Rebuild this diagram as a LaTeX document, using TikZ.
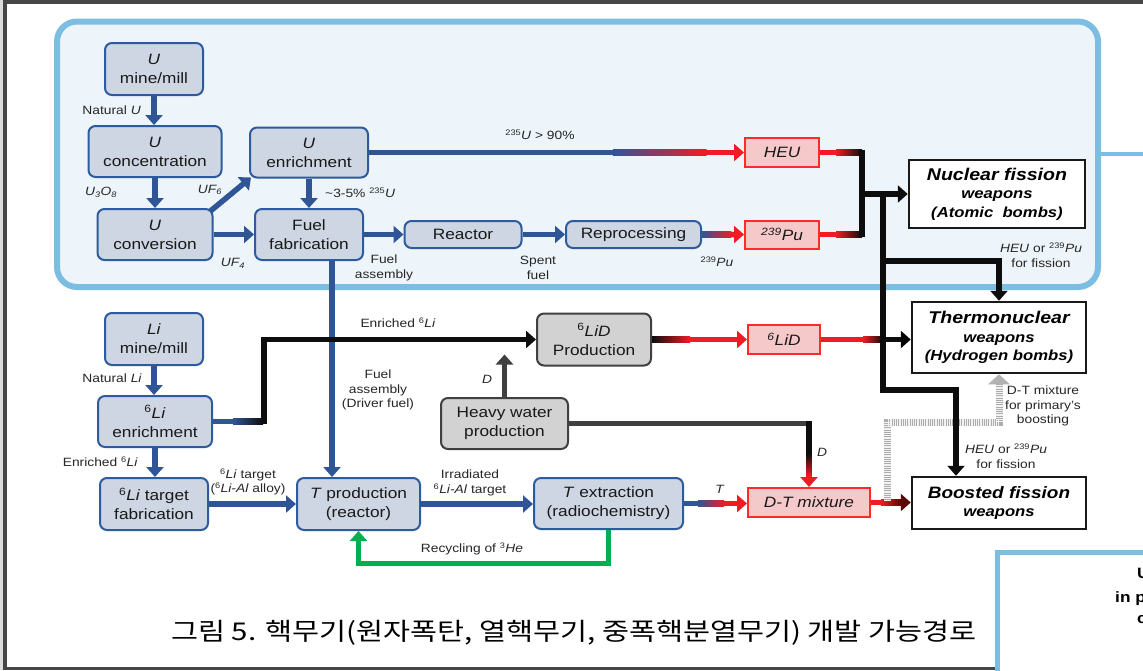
\documentclass[tikz,border=0pt]{standalone}
\usepackage{fontspec}
\setmainfont{Liberation Sans}[FakeStretch=1.15]
\newfontfamily\krfont{Noto Sans CJK KR}[FakeStretch=1.2]
\usetikzlibrary{arrows.meta,calc}

\definecolor{cBlue}{HTML}{2F5597}
\definecolor{cProc}{HTML}{CDD6E2}
\definecolor{cProcD}{HTML}{2E5B9E}
\definecolor{cRed}{HTML}{F01C24}
\definecolor{cRedB}{HTML}{FF2A2A}
\definecolor{cPink}{HTML}{F5C8CA}
\definecolor{cDkRed}{HTML}{5A0808}
\definecolor{cGray}{HTML}{D2D2D2}
\definecolor{cDark}{HTML}{404040}
\definecolor{cSky}{HTML}{7CBDE2}
\definecolor{cSkyF}{HTML}{EEF5FA}
\definecolor{cGreen}{HTML}{00B050}
\definecolor{cLab}{HTML}{262626}
\definecolor{cFrame}{HTML}{464646}
\definecolor{cOut}{HTML}{DCDCDC}

\newcommand\nodefnt{\fontsize{15}{19}\selectfont}
\newcommand\labfnt{\fontsize{12}{14.5}\selectfont}
\newcommand\wpnfnt{\bfseries\itshape\fontsize{14.5}{18.5}\selectfont}
% horizontal / vertical colour ramps laid over a 5.5pt connector
\newcommand\hgrad[4]{\shade[left color=#3,right color=#4] ($#1+(0,-2.75)$) rectangle ($#2+(0,2.75)$);}
\newcommand\vgrad[4]{\shade[top color=#3,bottom color=#4] ($#1+(-2.75,0)$) rectangle ($#2+(2.75,0)$);}

\begin{document}
\begin{tikzpicture}[x=1pt,y=-1pt,
  >={Triangle[width=17pt,length=10pt]},
  proc/.style={draw=cProcD, fill=cProc, line width=2pt, rounded corners=7pt, align=center, inner sep=0pt, font=\nodefnt, text=black!90},
  gbox/.style={proc, draw=cDark, fill=cGray},
  rbox/.style={draw=cRedB, fill=cPink, line width=2pt, inner sep=0pt, font=\nodefnt\itshape, text=black!90},
  wbox/.style={draw=black!90, fill=white, line width=2.5pt, align=center, inner sep=0pt, font=\wpnfnt},
  lab/.style={font=\labfnt, text=cLab, align=center, inner sep=0pt},
  bl/.style={draw=cBlue, line width=5.5pt},
  kl/.style={draw=black!95, line width=5.5pt},
  rl/.style={draw=cRed, line width=5.5pt},
  dl/.style={draw=cDark, line width=5.5pt},
  gl/.style={draw=cGreen, line width=5pt},
  tored/.style={-{Triangle[width=17pt,length=10pt,color=cRed]}},
  todkred/.style={-{Triangle[width=17pt,length=10pt,color=cDkRed]}},
  toblack/.style={-{Triangle[width=17pt,length=10pt,color=black]}},
]
\useasboundingbox (0,0) rectangle (1143,670);
\clip (0,0) rectangle (1143,670);

% page frame
\fill[cOut] (0,0) rectangle (1143,670);
\fill[cFrame] (3,0) rectangle (1143,670);
\fill[white] (7,4) rectangle (1143,667);

% fission-material panel
\draw[cSky, line width=6pt, fill=cSkyF, rounded corners=20pt] (57,21.5) rectangle (1098,287);
\draw[cSky, line width=4pt] (1098,154) -- (1143,154);
% neighbouring panel
\draw[cSky, line width=5pt, fill=white] (997.5,552.5) rectangle (1170,700);
\node[font=\bfseries\fontsize{15}{18}\selectfont, anchor=base west, inner sep=0pt] (pU) at (1137,578) {U};
\node[font=\bfseries\fontsize{15}{18}\selectfont, anchor=base west, inner sep=0pt] (pIn) at (1115,602) {in p};
\node[font=\bfseries\fontsize{15}{18}\selectfont, anchor=base west, inner sep=0pt] (pC) at (1137,623) {c};

% uranium route
\node[proc, minimum width=98pt, minimum height=52pt] (umine) at (154,69) {\textit{U}\\mine/mill};
\node[proc, minimum width=133pt, minimum height=51pt] (ucon) at (155,151.5) {\textit{U}\\concentration};
\node[proc, minimum width=115pt, minimum height=51pt] (uconv) at (155,234.5) {\textit{U}\\conversion};
\node[proc, minimum width=118pt, minimum height=50pt] (uenr) at (309,152.5) {\textit{U}\\enrichment};
\node[proc, minimum width=108pt, minimum height=51pt] (ffab) at (309,234.5) {Fuel\\fabrication};
\node[proc, minimum width=117pt, minimum height=27pt] (reac) at (463,234.5) {Reactor};
\node[proc, minimum width=135pt, minimum height=27pt] (repr) at (633.5,234.5) {Reprocessing};
\node[rbox, minimum width=74pt, minimum height=29pt] (heu) at (782,152.5) {HEU};
\node[rbox, minimum width=74pt, minimum height=28pt] (pu) at (782,234.5) {\textsuperscript{239}Pu};

% lithium route
\node[proc, minimum width=98pt, minimum height=52pt] (limine) at (154,339) {\textit{Li}\\mine/mill};
\node[proc, minimum width=114pt, minimum height=51pt] (lienr) at (155,421.5) {\textsuperscript{6}\textit{Li}\\enrichment};
\node[proc, minimum width=108pt, minimum height=52pt] (litf) at (154,504) {\textsuperscript{6}\textit{Li} target\\fabrication};
\node[proc, minimum width=123pt, minimum height=52pt] (tprod) at (358.5,504) {\textit{T} production\\(reactor)};
\node[proc, minimum width=149pt, minimum height=51pt] (text) at (608.5,503.5) {\textit{T} extraction\\(radiochemistry)};
\node[gbox, minimum width=114pt, minimum height=52pt] (lidprod) at (594,339.5) {\textsuperscript{6}\textit{LiD}\\Production};
\node[gbox, minimum width=127pt, minimum height=51pt] (hw) at (504.5,423.5) {Heavy water\\production};
\node[rbox, minimum width=72pt, minimum height=29pt] (lid) at (784,339.5) {\textsuperscript{6}LiD};
\node[rbox, minimum width=122pt, minimum height=29pt] (dt) at (809,502.5) {D-T mixture};

% weapon types
\node[wbox, minimum width=176pt, minimum height=68pt] (nfw) at (997,194) {{\fontsize{17}{19}\selectfont Nuclear fission}\\weapons\\(Atomic\ \ bombs)};
\node[wbox, minimum width=174pt, minimum height=71pt] (thermo) at (999,337.5) {{\fontsize{17}{19}\selectfont Thermonuclear}\\weapons\\(Hydrogen bombs)};
\node[wbox, minimum width=174pt, minimum height=52pt] (boosted) at (999,503) {{\fontsize{16.5}{19}\selectfont Boosted fission}\\weapons};

% ---- connectors: uranium
\draw[bl,->] (umine.south) -- (umine.south |- ucon.north);
\draw[bl,->] (ucon.south) -- (ucon.south |- uconv.north);
\draw[bl,->] ($(uconv.north east)+(-3,3)$) -- ($(uenr.south west)+(2,-1)$);
\draw[bl,->] (uconv.east) -- (uconv.east -| ffab.west);
\draw[bl,->] (uenr.south) -- (uenr.south |- ffab.north);
\draw[bl,->] (ffab.east) -- (ffab.east -| reac.west);
\draw[bl,->] (reac.east) -- (reac.east -| repr.west);

\coordinate (h1) at ($(uenr.east)!0.65!(heu.west)$);
\coordinate (h2) at ($(uenr.east)!0.9!(heu.west)$);
\draw[bl,tored] (uenr.east) -- (heu.west);
\hgrad{(h1)}{(h2)}{cBlue}{cRed}
\draw[rl] (h2) -- ($(heu.west)+(-10,0)$);

\coordinate (p1) at ($(repr.east)!0.7!(pu.west)$);
\draw[bl,tored] (repr.east) -- (pu.west);
\hgrad{(repr.east)}{(p1)}{cBlue}{cRed}
\draw[rl] (p1) -- ($(pu.west)+(-10,0)$);

% ---- connectors: lithium
\draw[bl,->] (limine.south) -- (limine.south |- lienr.north);
\draw[bl,->] (lienr.south) -- (lienr.south |- litf.north);
\draw[bl,->] (litf.east) -- (litf.east -| tprod.west);
\draw[bl,->] ([xshift=23pt]ffab.south) -- ([xshift=23pt]ffab.south |- tprod.north);
\draw[bl,->] (tprod.east) -- (tprod.east -| text.west);

\coordinate (l1) at ($(lienr.east)+(20,0)$);
\coordinate (l2) at ($(lienr.east)+(50,0)$);
\coordinate (lc) at ($(lidprod.west)+(-272,0)$);
\draw[bl] (lienr.east) -- (l1);
\hgrad{(l1)}{(l2)}{cBlue}{black!95}
\draw[kl,->] ($(l2)+(-0.5,0)$) -| (lc) -- (lidprod.west);

\coordinate (d1) at ($(lidprod.east)+(38,0)$);
\draw[kl,tored] (lidprod.east) -- (lidprod.east -| lid.west);
\hgrad{(lidprod.east)}{(d1)}{black!95}{cRed}
\draw[rl] (d1) -- ($(lidprod.east -| lid.west)+(-10,0)$);

\draw[dl,->] (hw.north) -- ($(hw.north |- lidprod.west)+(0,15)$);
\coordinate (w1) at ($(hw.east -| dt.north)+(0,-2.75)$);
\coordinate (w2) at ($(hw.east -| dt.north)+(0,30)$);
\coordinate (w3) at ($(hw.east -| dt.north)+(0,52)$);
\draw[dl,tored] (hw.east) -| (dt.north);
\draw[kl] (w1) -- (w2);
\vgrad{(w2)}{(w3)}{black!95}{cRed}
\draw[rl] (w3) -- ($(dt.north)+(0,-10)$);

\coordinate (t1) at ($(text.east)+(14,0)$);
\coordinate (t2) at ($(text.east)+(40,0)$);
\draw[bl,tored] (text.east) -- (text.east -| dt.west);
\hgrad{(t1)}{(t2)}{cBlue}{cRed}
\draw[rl] (t2) -- ($(text.east -| dt.west)+(-10,0)$);

\coordinate (b1) at ($(dt.east)+(10,0)$);
\coordinate (b2) at ($(dt.east -| boosted.west)+(-10,0)$);
\draw[rl,todkred] (dt.east) -- (dt.east -| boosted.west);
\hgrad{(b1)}{(b2)}{cRed}{cDkRed}

\draw[gl,->] (text.south) -- ++(0,33) -| (tprod.south);

% D-T mixture for boosting the primary (hatched)
\coordinate (x0) at (887,500.5);
\coordinate (x1) at (887,422);
\draw[line width=7pt, draw=gray!65, -{Triangle[width=21pt,length=10pt,color=gray!60]}] (x0) -- (x1) -| (thermo.south);
\draw[line width=7pt, draw=gray!10, dash pattern=on 0.9pt off 0.9pt, shorten >=10pt] (x0) -- (x1) -| (thermo.south);

% ---- HEU / Pu to the weapons
\coordinate (jn) at (862,194);
\coordinate (ha) at ($(heu.east)+(16,0)$);
\coordinate (hb) at (heu.east -| jn);
\coordinate (pa) at ($(pu.east)+(16,0)$);
\coordinate (pb) at (pu.east -| jn);
\draw[rl] (heu.east) -- (ha);
\hgrad{(ha)}{(hb)}{cRed}{black!95}
\draw[rl] (pu.east) -- (pa);
\hgrad{(pa)}{(pb)}{cRed}{black!95}
\draw[kl, line cap=rect] (hb) -- (pb);
\draw[kl,->] (jn) -- (jn -| nfw.west);

\coordinate (d2) at ($(lid.east)+(42,0)$);
\coordinate (d3) at ($(lid.east)+(62,0)$);
\draw[rl,toblack] (lid.east) -- (lid.east -| thermo.west);
\hgrad{(d2)}{(d3)}{cRed}{black!95}
\draw[kl] (d3) -- ($(lid.east -| thermo.west)+(-10,0)$);

\coordinate (tk) at (883,194);
\coordinate (tt) at (883,261);
\coordinate (tb) at (883,390);
\draw[kl,->] (tk) -- (tb) -| ([xshift=-43pt]boosted.north);
\draw[kl,->] (tt) -| (thermo.north);

% ---- labels
\node[lab, anchor=east] (lNatU) at (141,110) {Natural \textit{U}};
\node[lab] (lU3O8) at (101,192) {\textit{U\textsubscript{3}O\textsubscript{8}}};
\node[lab] (lUF6) at (210,190) {\textit{UF\textsubscript{6}}};
\node[lab] (lUF4) at (233,263) {\textit{UF\textsubscript{4}}};
\node[lab, anchor=west] (l35) at (325,193) {\textasciitilde3-5\% \textsuperscript{235}\textit{U}};
\node[lab] (l90) at (540,135) {\textsuperscript{235}\textit{U} > 90\%};
\node[lab] (lFA) at (384,268) {Fuel\\assembly};
\node[lab] (lSF) at (538,268) {Spent\\fuel};
\node[lab] (lPu) at (717,262) {\textsuperscript{239}\textit{Pu}};
\node[lab] (lHEU1) at (1041,255) {\textit{HEU} or \textsuperscript{239}\textit{Pu}\\for fission};
\node[lab] (lEn1) at (398,323) {Enriched \textsuperscript{6}\textit{Li}};
\node[lab, anchor=east] (lNatLi) at (142,378) {Natural \textit{Li}};
\node[lab, anchor=east] (lEn2) at (138,462) {Enriched \textsuperscript{6}\textit{Li}};
\node[lab] (lTgt) at (248,482) {\textsuperscript{6}\textit{Li} target\\(\textsuperscript{6}\textit{Li-Al} alloy)};
\node[lab] (lDrv) at (378,390) {Fuel\\assembly\\(Driver fuel)};
\node[lab] (lD1) at (487,379) {\textit{D}};
\node[lab] (lIrr) at (470,483) {Irradiated\\\textsuperscript{6}\textit{Li-Al} target};
\node[lab] (lT) at (720,489) {\textit{T}};
\node[lab] (lD2) at (822,452) {\textit{D}};
\node[lab] (lBoost) at (1043,406) {D-T mixture\\for primary's\\boosting};
\node[lab] (lHEU2) at (1006,456) {\textit{HEU} or \textsuperscript{239}\textit{Pu}\\for fission};
\node[lab] (lRec) at (472,549) {Recycling of \textsuperscript{3}\textit{He}};

% caption
\node[font=\krfont\fontsize{24.5}{26}\selectfont, inner sep=0pt] (cap) at (574,633) {그림 5. 핵무기(원자폭탄, 열핵무기, 중폭핵분열무기) 개발 가능경로};
\end{tikzpicture}
\end{document}
